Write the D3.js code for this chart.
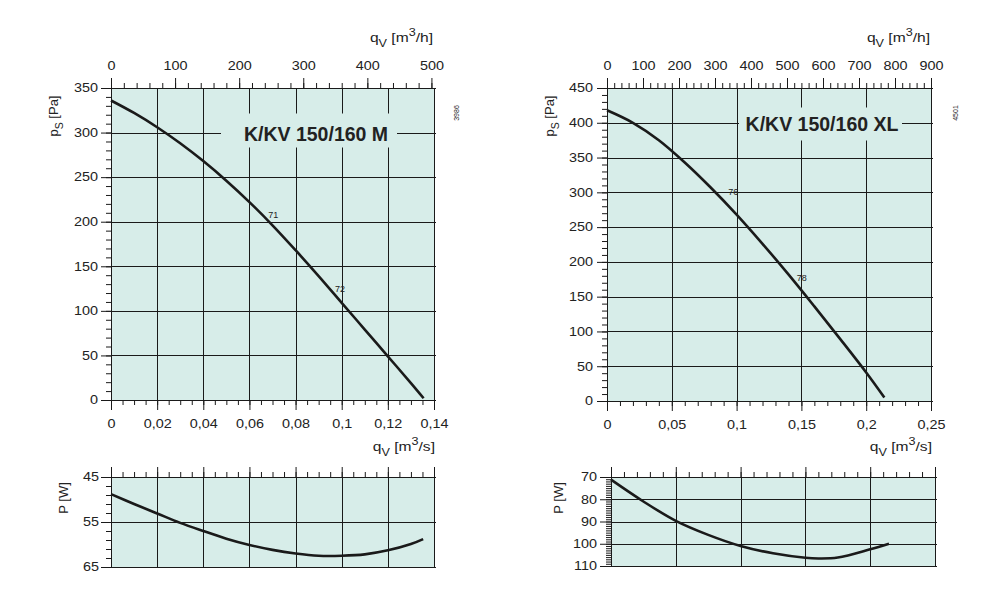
<!DOCTYPE html>
<html><head><meta charset="utf-8">
<script src="https://cdn.jsdelivr.net/npm/d3@7"></script>
<style>
body{margin:0;background:#fff}
text{font-family:"Liberation Sans",Arial,Helvetica,sans-serif;fill:#222}
</style></head>
<body><svg id="c" width="1005" height="600"></svg>
<script>
// ---------------- DATA ----------------
// K/KV 150/160 M
const mFlow = [0, 0.01, 0.02, 0.03, 0.04, 0.05, 0.06, 0.07, 0.08, 0.09, 0.10, 0.11, 0.12, 0.13, 0.1355];
const mPressure = [336, 322, 306, 288, 268, 246, 222, 196, 168, 139, 109, 79, 49, 19, 2];
const mPowerFlow = [0, 0.01, 0.02, 0.03, 0.04, 0.05, 0.06, 0.07, 0.08, 0.09, 0.10, 0.11, 0.12, 0.13, 0.1353];
const mPower = [48.8, 51.0, 53.1, 55.2, 57.0, 58.7, 60.1, 61.2, 62.0, 62.5, 62.5, 62.2, 61.3, 59.9, 58.8];
const mFlowTicks = [0, 0.02, 0.04, 0.06, 0.08, 0.10, 0.12, 0.14];
const mFlowTickLabels = ["0", "0,02", "0,04", "0,06", "0,08", "0,1", "0,12", "0,14"];
const mHourTicks = [0, 100, 200, 300, 400, 500];
const mPressureTicks = [0, 50, 100, 150, 200, 250, 300, 350];
const mPowerTicks = [45, 55, 65];
const mCurveLabels = ["71", "72"];
const mCurveLabelFlow = [0.0703, 0.0993];
const mCurveLabelPressure = [208, 125];
const mTitle = "K/KV 150/160 M";
const mCode = "3986";

// K/KV 150/160 XL
const xlFlow = [0, 0.02, 0.04, 0.06, 0.08, 0.10, 0.12, 0.14, 0.16, 0.18, 0.20, 0.214];
const xlPressure = [418, 400, 375, 343, 307, 268, 226, 182, 136, 89, 41, 5];
const xlPowerFlow = [0, 0.025, 0.05, 0.075, 0.10, 0.125, 0.15, 0.16, 0.175, 0.20, 0.2145];
const xlPower = [71.2, 81, 89.7, 96, 101, 104.3, 106.3, 106.6, 106.2, 102.5, 100];
const xlFlowTicks = [0, 0.05, 0.10, 0.15, 0.20, 0.25];
const xlFlowTickLabels = ["0", "0,05", "0,1", "0,15", "0,2", "0,25"];
const xlHourTicks = [0, 100, 200, 300, 400, 500, 600, 700, 800, 900];
const xlPressureTicks = [0, 50, 100, 150, 200, 250, 300, 350, 400, 450];
const xlPowerTicks = [70, 80, 90, 100, 110];
const xlCurveLabels = ["76", "78"];
const xlCurveLabelFlow = [0.0974, 0.1503];
const xlCurveLabelPressure = [300, 177];
const xlTitle = "K/KV 150/160 XL";
const xlCode = "4501";

// ---------------- DRAWING ----------------
const svg = d3.select("#c");
const BG = "#d7ede9", INK = "#1a1a1a", SX = 1.2;
const smooth = d3.curveCatmullRom.alpha(0.5);

function stretchTexts(sel) {
  sel.selectAll("text").each(function () {
    const t = d3.select(this);
    const x = +t.attr("x") || 0, y = +t.attr("y") || 0;
    t.attr("x", 0).attr("y", 0).attr("transform", `translate(${x},${y}) scale(${SX},1)`);
  });
}
function styleAxis(g) {
  g.attr("font-size", 12).attr("font-family", null);
  g.selectAll("line,path").attr("stroke", INK);
  g.selectAll("text").attr("fill", "#222");
}
function minorRange(max, step) {
  return d3.range(0, max + step / 2, step);
}
function qLabel(x, y, unit) {
  const g = svg.append("g").attr("transform", `translate(${x},${y}) scale(${SX},1)`);
  const t = g.append("text").attr("text-anchor", "end").attr("font-size", 13);
  t.append("tspan").text("q");
  t.append("tspan").attr("font-size", 10.5).attr("dy", 5).text("V");
  t.append("tspan").attr("dy", -5).text("  [m");
  t.append("tspan").attr("font-size", 10.5).attr("dy", -6).text("3");
  t.append("tspan").attr("dy", 6).text(unit + "]");
}
function rotLabel(x, y, main, sub, rest) {
  const t = svg.append("text").attr("transform", `translate(${x},${y}) rotate(-90)`)
    .attr("text-anchor", "middle").attr("font-size", 13);
  t.append("tspan").text(main);
  if (sub) {
    t.append("tspan").attr("font-size", 10.5).attr("dy", 5).text(sub);
    t.append("tspan").attr("dy", -5).text(rest);
  } else t.append("tspan").text(rest);
}

function pressurePanel(c) {
  const x = d3.scaleLinear().domain([0, c.flowMax]).range([c.x0, c.x1]);
  const xh = d3.scaleLinear().domain([0, c.hourMax]).range([c.x0, c.x1]);
  const y = d3.scaleLinear().domain([0, c.pMax]).range([c.y0, c.y1]);
  const g = svg.append("g");
  g.append("rect").attr("x", c.x0).attr("y", c.y1).attr("width", c.x1 - c.x0).attr("height", c.y0 - c.y1).attr("fill", BG);
  g.selectAll(".hg").data(c.pTicks).join("line")
    .attr("x1", c.x0).attr("x2", c.x1 + 2)
    .attr("y1", d => Math.round(y(d)) + 0.5).attr("y2", d => Math.round(y(d)) + 0.5)
    .attr("stroke", INK);
  g.selectAll(".vg").data(c.flowTicks).join("line")
    .attr("x1", d => Math.round(x(d)) + 0.5).attr("x2", d => Math.round(x(d)) + 0.5)
    .attr("y1", c.y1).attr("y2", c.y0)
    .attr("stroke", INK);
  const ty = Math.round(y(c.titleP)) + 0.5;
  g.append("rect").attr("x", c.gap[0]).attr("width", c.gap[1] - c.gap[0])
    .attr("y", ty - c.gap[2]).attr("height", c.gap[2] + c.gap[3]).attr("fill", BG);
  g.append("text").attr("x", c.titleX).attr("y", ty + 7).attr("text-anchor", "middle")
    .attr("font-size", 19.5).attr("font-weight", "bold").attr("fill", "#222").text(c.title);
  const left = g.append("g").attr("transform", `translate(${c.x0},0)`)
    .call(d3.axisLeft(y).tickValues(c.pTicks).tickSize(10).tickSizeOuter(0).tickPadding(c.lpad));
  const leftMinor = g.append("g").attr("transform", `translate(${c.x0},0)`)
    .call(d3.axisLeft(y).tickValues(minorRange(c.pMax, c.pMinor)).tickSize(5).tickSizeOuter(0).tickFormat(""));
  const bottom = g.append("g").attr("transform", `translate(0,${c.y0})`)
    .call(d3.axisBottom(x).tickValues(c.flowTicks).tickSize(10).tickSizeOuter(0).tickFormat((d, i) => c.flowLabels[i]));
  const bottomMinor = g.append("g").attr("transform", `translate(0,${c.y0})`)
    .call(d3.axisBottom(x).tickValues(minorRange(c.flowMax, c.flowMinor)).tickSize(5).tickSizeOuter(0).tickFormat(""));
  const top = g.append("g").attr("transform", `translate(0,${c.y1})`)
    .call(d3.axisTop(xh).tickValues(c.hourTicks).tickSize(10).tickSizeOuter(0).tickFormat(d => d));
  const topMinor = g.append("g").attr("transform", `translate(0,${c.y1})`)
    .call(d3.axisTop(xh).tickValues(minorRange(c.hourMax, c.hourMinor)).tickSize(5).tickSizeOuter(0).tickFormat(""));
  [left, leftMinor, bottom, bottomMinor, top, topMinor].forEach(styleAxis);
  bottom.selectAll("text").attr("y", 28).attr("dy", 0);
  top.selectAll("text").attr("y", -18).attr("dy", 0);
  [left, bottom, top].forEach(stretchTexts);
  g.append("rect").attr("x", Math.round(c.x0) + 0.5).attr("y", Math.round(c.y1) + 0.5)
    .attr("width", Math.round(c.x1) - Math.round(c.x0)).attr("height", Math.round(c.y0) - Math.round(c.y1))
    .attr("fill", "none").attr("stroke", INK);
  const pts = c.flow.map((q, i) => [q, c.pressure[i]]);
  g.append("path").datum(pts)
    .attr("d", d3.line().x(d => x(d[0])).y(d => y(d[1])).curve(smooth))
    .attr("fill", "none").attr("stroke", INK).attr("stroke-width", 2.6);
  g.selectAll(".cl").data(c.labels).join("text")
    .attr("x", (d, i) => x(c.labelFlow[i])).attr("y", (d, i) => y(c.labelP[i]) + 3)
    .attr("text-anchor", "middle").attr("font-size", 9).attr("fill", "#333").text(d => d);
}

function powerPanel(c) {
  const x = d3.scaleLinear().domain([0, c.flowMax]).range([c.x0, c.x1]);
  const y = d3.scaleLinear().domain([c.wTicks[0], c.wTicks[c.wTicks.length - 1]]).range([c.y0, c.y1]);
  const g = svg.append("g");
  g.append("rect").attr("x", c.x0).attr("y", c.y0).attr("width", c.x1 - c.x0).attr("height", c.y1 - c.y0).attr("fill", BG);
  g.selectAll(".hg").data(c.wTicks).join("line")
    .attr("x1", c.x0).attr("x2", c.x1 + 2)
    .attr("y1", d => Math.round(y(d)) + 0.5).attr("y2", d => Math.round(y(d)) + 0.5)
    .attr("stroke", INK);
  g.selectAll(".vg").data(c.flowTicks).join("line")
    .attr("x1", d => Math.round(x(d)) + 0.5).attr("x2", d => Math.round(x(d)) + 0.5)
    .attr("y1", c.y0).attr("y2", c.y1)
    .attr("stroke", INK);
  const w0 = c.wTicks[0], w1 = c.wTicks[c.wTicks.length - 1];
  const left = g.append("g").attr("transform", `translate(${c.x0},0)`)
    .call(d3.axisLeft(y).tickValues(c.wTicks).tickSize(c.ltick).tickSizeOuter(0).tickPadding(c.lpad));
  const leftMinor = g.append("g").attr("transform", `translate(${c.x0},0)`)
    .call(d3.axisLeft(y).tickValues(d3.range(w0, w1 + c.wMinor / 2, c.wMinor)).tickSize(5).tickSizeOuter(0).tickFormat(""));
  const top = g.append("g").attr("transform", `translate(0,${c.y0})`)
    .call(d3.axisTop(x).tickValues(c.flowTicks).tickSize(10).tickSizeOuter(0).tickFormat(""));
  const topMinor = g.append("g").attr("transform", `translate(0,${c.y0})`)
    .call(d3.axisTop(x).tickValues(minorRange(c.flowMax, c.flowMinor)).tickSize(5).tickSizeOuter(0).tickFormat(""));
  [left, leftMinor, top, topMinor].forEach(styleAxis);
  stretchTexts(left);
  g.append("rect").attr("x", Math.round(c.x0) + 0.5).attr("y", Math.round(c.y0) + 0.5)
    .attr("width", Math.round(c.x1) - Math.round(c.x0)).attr("height", Math.round(c.y1) - Math.round(c.y0))
    .attr("fill", "none").attr("stroke", INK);
  const pts = c.flow.map((q, i) => [q, c.power[i]]);
  g.append("path").datum(pts)
    .attr("d", d3.line().x(d => x(d[0])).y(d => y(d[1])).curve(smooth))
    .attr("fill", "none").attr("stroke", INK).attr("stroke-width", 2.6);
}

pressurePanel({
  x0: 111, x1: 434, y0: 400, y1: 88,
  flowMax: 0.14, flowTicks: mFlowTicks, flowLabels: mFlowTickLabels, flowMinor: 0.005,
  hourMax: 504, hourTicks: mHourTicks, hourMinor: 20,
  pMax: 350, pTicks: mPressureTicks, pMinor: 10, lpad: 3,
  flow: mFlow, pressure: mPressure,
  title: mTitle, titleX: 316, titleP: 300, gap: [221, 397, 20, 14],
  labels: mCurveLabels, labelFlow: mCurveLabelFlow, labelP: mCurveLabelPressure
});
powerPanel({
  x0: 111, x1: 434, y0: 477, y1: 567,
  flowMax: 0.14, flowTicks: mFlowTicks, flowMinor: 0.005,
  wTicks: mPowerTicks, wMinor: 2, ltick: 10, lpad: 2,
  flow: mPowerFlow, power: mPower
});
pressurePanel({
  x0: 607, x1: 931, y0: 401, y1: 88,
  flowMax: 0.25, flowTicks: xlFlowTicks, flowLabels: xlFlowTickLabels, flowMinor: 0.01,
  hourMax: 900, hourTicks: xlHourTicks, hourMinor: 20,
  pMax: 450, pTicks: xlPressureTicks, pMinor: 10, lpad: 4,
  flow: xlFlow, pressure: xlPressure,
  title: xlTitle, titleX: 822, titleP: 400, gap: [739, 902, 16, 17],
  labels: xlCurveLabels, labelFlow: xlCurveLabelFlow, labelP: xlCurveLabelPressure
});
powerPanel({
  x0: 611, x1: 935, y0: 477, y1: 566,
  flowMax: 0.25, flowTicks: xlFlowTicks, flowMinor: 0.01,
  wTicks: xlPowerTicks, wMinor: 1, ltick: 11, lpad: 3,
  flow: xlPowerFlow, power: xlPower
});

qLabel(433, 42, "/h");
qLabel(435, 451, "/s");
qLabel(930, 42, "/h");
qLabel(932, 451, "/s");
rotLabel(58, 116, "p", "S", "  [Pa]");
rotLabel(554, 116, "p", "S", "  [Pa]");
rotLabel(68, 498, "P [W]", null, "");
rotLabel(563, 498, "P [W]", null, "");
svg.append("text").attr("transform", "translate(459,113) rotate(-90)").attr("text-anchor", "middle")
  .attr("font-size", 7).attr("fill", "#444").text(mCode);
svg.append("text").attr("transform", "translate(958,113) rotate(-90)").attr("text-anchor", "middle")
  .attr("font-size", 7).attr("fill", "#444").text(xlCode);
</script></body></html>
